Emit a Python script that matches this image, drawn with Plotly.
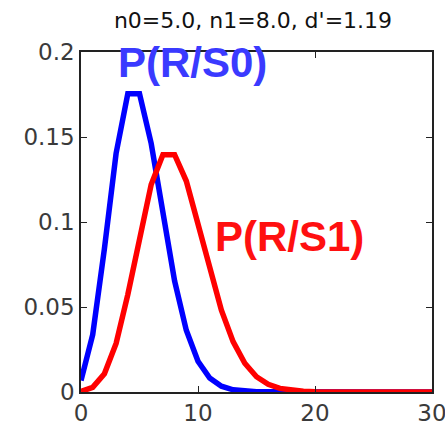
import plotly.graph_objects as go

r_values = list(range(31))
p_s0 = [0.0067, 0.0337, 0.0842, 0.1404, 0.1755, 0.1755, 0.1462, 0.1044, 0.0653, 0.0363,
        0.0181, 0.0082, 0.0034, 0.0013, 0.0005, 0.0002, 0.0001, 0.0, 0.0, 0.0,
        0.0, 0.0, 0.0, 0.0, 0.0, 0.0, 0.0, 0.0, 0.0, 0.0, 0.0]
p_s1 = [0.0003, 0.0027, 0.0107, 0.0286, 0.0573, 0.0916, 0.1221, 0.1396, 0.1396, 0.1241,
        0.0993, 0.0722, 0.0481, 0.0296, 0.0169, 0.0090, 0.0045, 0.0021, 0.0009, 0.0004,
        0.0002, 0.0001, 0.0, 0.0, 0.0, 0.0, 0.0, 0.0, 0.0, 0.0, 0.0]
x_ticks = [0, 10, 20, 30]
y_ticks = [0, 0.05, 0.1, 0.15, 0.2]
y_tick_labels = ["0", "0.05", "0.1", "0.15", "0.2"]
title_text = "n0=5.0, n1=8.0, d'=1.19"

fig = go.Figure()
fig.add_trace(go.Scatter(x=r_values, y=p_s0, mode="lines",
                         line=dict(color="#0000ff", width=5.5), showlegend=False))
fig.add_trace(go.Scatter(x=r_values, y=p_s1, mode="lines",
                         line=dict(color="#ff0000", width=5.5), showlegend=False))

fig.add_annotation(x=9.57, y=0.194, xref="x", yref="y", text="<b>P(R/S0)</b>",
                   showarrow=False, font=dict(family="Liberation Sans, Arial", size=42, color="#3a3aff"))
fig.add_annotation(x=17.78, y=0.0912, xref="x", yref="y", text="<b>P(R/S1)</b>",
                   showarrow=False, font=dict(family="Liberation Sans, Arial", size=42, color="#ff1010"))

axis_common = dict(showline=True, linecolor="#222", linewidth=1.5, mirror="ticks",
                   ticks="inside", ticklen=6, tickcolor="#222", showgrid=False, zeroline=False,
                   automargin=False, ticklabeloverflow="allow",
                   tickfont=dict(family="DejaVu Sans", size=23, color="#3a3a3a"))
fig.update_xaxes(range=[0, 30], tickvals=x_ticks, ticktext=[str(v) for v in x_ticks], **axis_common)
fig.update_yaxes(range=[0, 0.2], tickvals=y_ticks, ticktext=y_tick_labels, **axis_common)

fig.update_layout(
    width=445, height=427,
    margin=dict(l=81, r=13, t=52, b=35, autoexpand=False),
    paper_bgcolor="white", plot_bgcolor="white",
    title=dict(text=title_text, x=253 / 445, xanchor="center", y=1 - 20 / 427, yanchor="middle",
               font=dict(family="DejaVu Sans", size=22, color="#111")),
)

fig.write_html("out.html")
